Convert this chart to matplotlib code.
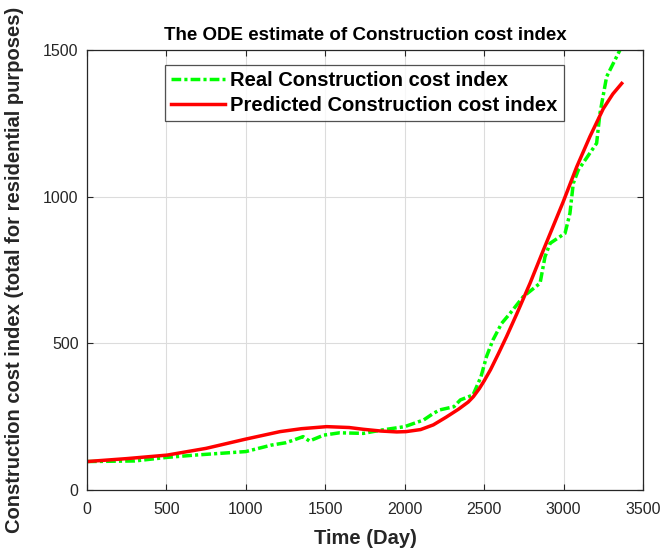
import matplotlib
matplotlib.use("Agg")
import matplotlib.pyplot as plt

plt.rcParams['font.family'] = ['Liberation Sans', 'DejaVu Sans']

# Observed construction cost index
real_days = [0, 300, 500, 680, 1000, 1160, 1250, 1300, 1360, 1400, 1490, 1590,
             1740, 1850, 2000, 2120, 2180, 2220, 2310, 2350, 2430, 2480, 2515,
             2555, 2610, 2663, 2746, 2852, 2883, 2915, 3009, 3040, 3061, 3093,
             3208, 3229, 3271, 3355]
real_index = [97, 99, 111, 119, 131, 153, 161, 170, 182, 167, 187, 195,
              193, 204, 216, 239, 261, 273, 284, 307, 324, 386, 455,
              511, 568, 602, 659, 705, 795, 841, 875, 943, 1045, 1091,
              1182, 1284, 1409, 1500]

# ODE model prediction
pred_days = [0, 250, 505, 750, 995, 1215, 1350, 1509, 1650, 1739, 1850, 1950,
             2008, 2100, 2180, 2260, 2340, 2400, 2432, 2470, 2500, 2540, 2590,
             2641, 2705, 2789, 2873, 2998, 3083, 3166, 3250, 3310, 3366]
pred_index = [97, 107, 119, 142, 173, 199, 209, 216, 213, 207, 201, 198,
              199, 206, 222, 248, 276, 300, 318, 346, 372, 410, 465,
              523, 600, 705, 818, 983, 1102, 1205, 1300, 1350, 1386]

x_ticks = [0, 500, 1000, 1500, 2000, 2500, 3000, 3500]
y_ticks = [0, 500, 1000, 1500]

axis_gray = '#262626'

fig = plt.figure(figsize=(6.62, 5.49), dpi=100)
ax = fig.add_axes([87 / 662, 1 - 490 / 549, 556 / 662, 440 / 549])

ax.plot(real_days, real_index, color='#00ff00', linestyle='-.', linewidth=2.5,
        dashes=(2.8, 0.9, 0.9, 0.9), label='Real Construction cost index')
ax.plot(pred_days, pred_index, color='#ff0000', linestyle='-', linewidth=2.5,
        label='Predicted Construction cost index')

ax.set_xlim(0, 3500)
ax.set_ylim(0, 1500)
ax.set_xticks(x_ticks)
ax.set_yticks(y_ticks)
ax.grid(True, color='#dcdcdc', linewidth=0.8)
ax.set_axisbelow(True)

ax.tick_params(direction='in', top=True, right=True, length=4, width=0.8,
               colors=axis_gray, labelsize=11.5)
ax.tick_params(axis='x', pad=9)
ax.tick_params(axis='y', pad=6)
for sp in ax.spines.values():
    sp.set_color(axis_gray)
    sp.set_linewidth(0.9)

ax.set_title('The ODE estimate of Construction cost index', fontsize=13.5,
             fontweight='bold', color='black', pad=7)
ax.set_xlabel('Time (Day)', fontsize=14.5, fontweight='bold', color=axis_gray,
              labelpad=8)
ax.set_ylabel('Construction cost index (total for residential purposes)',
              fontsize=14.5, fontweight='bold', color=axis_gray, labelpad=14)

leg = ax.legend(loc='upper left', bbox_to_anchor=(0.14, 0.966), fontsize=14.5,
                frameon=True, fancybox=False, handlelength=2.7,
                borderpad=0.3, labelspacing=0.3, handletextpad=0.25,
                borderaxespad=0)
leg.get_frame().set_edgecolor('#262626')
leg.get_frame().set_linewidth(0.9)
for t in leg.get_texts():
    t.set_fontweight('bold')
    t.set_color('black')

fig.savefig('out.png', dpi=100)
